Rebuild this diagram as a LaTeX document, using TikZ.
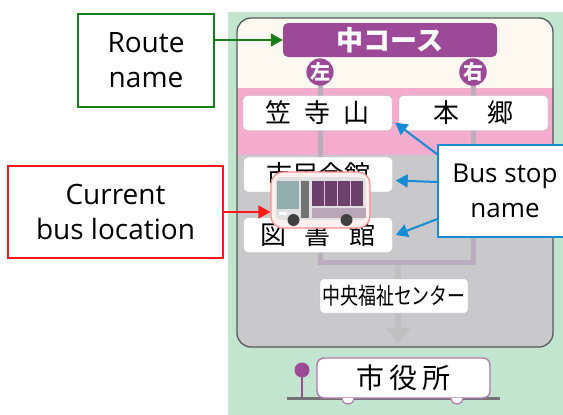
\documentclass[tikz,border=0pt]{standalone}
\usepackage{fontspec}
\setmainfont{Open Sans}
\newfontfamily\jp{Noto Sans CJK JP}
\usetikzlibrary{arrows.meta, positioning}
\definecolor{mint}{RGB}{194,229,207}
\definecolor{cream}{RGB}{253,249,240}
\definecolor{sakura}{RGB}{244,172,204}
\definecolor{panelgrey}{RGB}{201,200,202}
\definecolor{plum}{RGB}{156,74,152}
\definecolor{railgrey}{RGB}{186,174,188}
\definecolor{notegreen}{RGB}{24,128,24}
\definecolor{notered}{RGB}{250,24,24}
\definecolor{noteblue}{RGB}{22,140,212}

\begin{document}
\begin{tikzpicture}[x=1pt, y=-1pt, >={Triangle[length=12pt,width=13pt]}]
    \tikzstyle{note}=[draw, line width=1.2pt, fill=white, align=center, inner sep=0pt, font=\fontsize{28}{35}\selectfont]
    \tikzstyle{stop}=[draw=black!30, fill=white, rounded corners=4pt, minimum width=149pt, minimum height=35pt, inner sep=0pt, font=\jp\fontsize{26}{26}\selectfont]
    \tikzstyle{badge}=[circle, fill=plum, text=white, minimum size=26pt, inner sep=0pt, font=\jp\bfseries\fontsize{20}{20}\selectfont]
    \tikzstyle{rail}=[draw=railgrey, line width=5pt]
    \tikzstyle{pointer}=[->, line width=1.6pt]

    \useasboundingbox (0,0) rectangle (563,415);
    \fill[mint] (228,12) rectangle (563,415);

    % route panel: cream, pink and grey bands
    \begin{scope}
        \clip[rounded corners=14pt] (237,18) rectangle (553,347);
        \fill[cream] (237,18) rectangle (553,88);
        \fill[sakura] (237,88) rectangle (553,155);
        \fill[panelgrey] (237,155) rectangle (553,347);
    \end{scope}
    \draw[black!65, line width=1.3pt, rounded corners=14pt] (237,18) rectangle (553,347);

    \coordinate (left) at (320,72);
    \coordinate (right) at (473,72);
    \coordinate (join) at (398,262);
    \coordinate (end) at (398,343);
    \draw[draw=black!25, line width=6pt, -{Triangle[length=15pt,width=24pt]}] (join) -- (end);
    \draw[rail] (left) |- (join) -| (right);

    \node[fill=plum, rounded corners=5pt, minimum width=214pt, minimum height=34pt, inner sep=0pt,
          text=white, font=\jp\bfseries\fontsize{27}{27}\selectfont] (route) at (390,40) {中コース};
    \node[badge] (L) at (left) {左};
    \node[badge] (R) at (right) {右};

    \foreach \n/\x/\y/\t in {s1/317.5/113/{笠\hspace{13pt}寺\hspace{13pt}山},
                             s2/473.5/113/{本\hspace{28pt}郷},
                             s3/318/174.5/{市民会館},
                             s4/318/235/{図\hspace{19pt}書\hspace{19pt}館}}{
        \node[stop] (\n) at (\x,\y) {\t};
    }
    \node[stop, minimum width=148pt, minimum height=34pt, rounded corners=3pt,
          font=\jp\fontsize{23}{23}\selectfont] (center) at (394,296) {\scalebox{0.78}[1]{中央福祉センター}};

    % the bus between two stops
    \node[draw=red!45, line width=1.2pt, fill=red!6, rounded corners=12pt,
          minimum width=99pt, minimum height=56pt] (bus) at (320.5,200) {};
    \begin{scope}[shift={(bus.center)}]
        \fill[black!12, rounded corners=5pt] (-45,-23) rectangle (45,20);
        \fill[teal!30!gray!65] (-44,-19) rectangle (-22,9);
        \fill[black!55] (-20,-19) rectangle (-12,18);
        \fill[violet!45!black!75] (-9,-19) rectangle (42,6);
        \foreach \x in {4,17,30}
            \draw[violet!25!white, line width=1.4pt] (\x,-19) -- (\x,6);
        \fill[violet!25!gray!55] (-9,8) rectangle (45,18);
        \fill[white] (-42,12) rectangle (-34,15);
        \fill[black!75] (-27,20) circle (6);
        \fill[black!75] (26,20) circle (6);
    \end{scope}

    % city hall terminal
    \draw[black!55, line width=3pt] (287,398) -- (500,398);
    \draw[plum, line width=2.5pt] (302,372) -- (302,398);
    \fill[plum] (302,370) circle (7.5);
    \node[draw=plum!75, line width=1.4pt, fill=white, rounded corners=7pt, minimum width=173pt, minimum height=40pt,
          inner sep=0pt, font=\jp\fontsize{28}{28}\selectfont] (hall) at (403.5,378) {市\hspace{5pt}役\hspace{5pt}所};
    \foreach \x in {348,457}
        \draw[plum!75, line width=1.2pt, fill=white] (\x-6,398) arc[start angle=180, end angle=0, radius=6];

    % callouts
    \node[note, draw=notegreen, minimum width=136pt, minimum height=93pt] (rname) at (146,60.5) {Route\\name};
    \node[note, draw=notered, minimum width=215pt, minimum height=92pt] (loc) at (115.5,212) {Current\\bus location};
    \node[note, draw=noteblue, minimum width=134pt, minimum height=92pt,
          font=\fontsize{26}{35}\selectfont] (stopname) at (505,191) {Bus stop\\name};

    \draw[pointer, notegreen] (rname.east |- route.west) -- (route.west);
    \draw[pointer, notered] (loc.east) -- (loc.east -| bus.west);
    \draw[pointer, noteblue, line width=2pt] ([yshift=-10pt]stopname.north west) -- ([xshift=3pt,yshift=8pt]s1.south east);
    \draw[pointer, noteblue, line width=2pt] ([yshift=9pt]stopname.west) -- ([xshift=3pt,yshift=-6pt]s3.east);
    \draw[pointer, noteblue, line width=2pt] ([yshift=-28pt]stopname.west) -- ([xshift=3pt]s4.east);
\end{tikzpicture}
\end{document}
